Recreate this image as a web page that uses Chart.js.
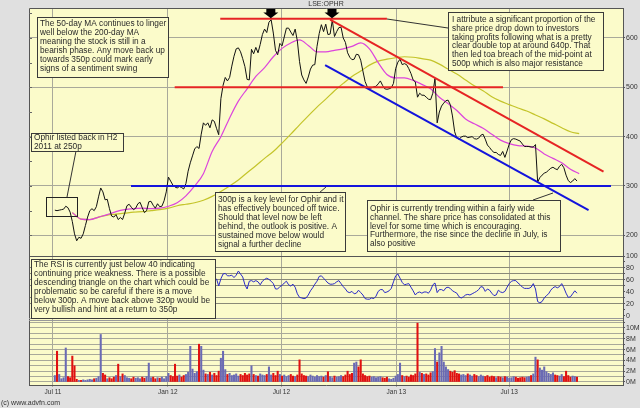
<!DOCTYPE html>
<html lang="en">

<head>
    <meta charset="UTF-8">
    <title>LSE:OPHR</title>
    <style>
        html, body { margin: 0; padding: 0; background: #e0e0e0; }
    </style>
</head>

<body>
    <canvas id="myCanvas" width="640" height="408"></canvas>
    <script src="https://cdn.jsdelivr.net/npm/chart.js@4.4.0/dist/chart.umd.min.js"></script>
    <script>
        // x values are days since 1 Jul 2011, price and volume read twice a week from 4 Jul 2011
        const firstDay = 3;
        const step = 3.5;

        const price = [
            251, 250, 251, 252, 253, 259, 256, 247, 228, 203,
            189, 196, 194, 203, 220, 237, 250, 254, 250, 258,
            278, 296, 288, 272, 273, 254, 239, 237, 242, 232,
            236, 232, 245, 260, 263, 257, 252, 255, 264, 267,
            256, 246, 250, 268, 269, 261, 255, 264, 258, 259,
            270, 288, 318, 310, 302, 298, 296, 299, 297, 294,
            305, 330, 347, 361, 375, 380, 376, 405, 428, 423,
            428, 418, 434, 431, 417, 404, 477, 504, 520, 513,
            520, 543, 563, 578, 580, 572, 558, 542, 516, 515,
            577, 568, 581, 570, 587, 607, 618, 611, 632, 637,
            610, 575, 566, 589, 584, 602, 620, 620, 612, 605,
            618, 594, 552, 525, 515, 508, 521, 537, 545, 546,
            583, 609, 627, 613, 628, 607, 608, 636, 603, 613,
            621, 622, 600, 591, 570, 561, 556, 557, 567, 566,
            555, 533, 512, 501, 498, 499, 501, 502, 507, 513,
            504, 497, 496, 497, 499, 508, 538, 551, 557, 546,
            548, 546, 538, 528, 515, 511, 480, 488, 484, 484,
            480, 476, 475, 488, 518, 428, 450, 462, 468, 473,
            474, 465, 442, 410, 397, 395, 399, 401, 401, 398,
            399, 400, 396, 395, 397, 403, 405, 395, 383, 378,
            372, 368, 368, 364, 362, 370, 358, 371, 385, 394,
            396, 395, 393, 391, 385, 380, 380, 380, 379, 379,
            384, 308, 317, 322, 326, 328, 332, 336, 338, 335,
            333, 340, 344, 337, 322, 311, 307, 310, 315, 310
        ];

        // millions of shares
        const volume = [
            1.2, 5.7, 1.4, 0.6, 0.8, 6.3, 1.0, 0.8, 4.8, 3.0,
            0.5, 0.3, 0.3, 0.4, 0.3, 0.4, 0.5, 0.4, 0.6, 0.7,
            1.0, 8.8, 1.6, 1.3, 0.6, 0.8, 0.6, 0.9, 1.2, 3.3,
            1.0, 1.5, 1.2, 0.8, 0.7, 0.6, 0.9, 0.7, 0.8, 0.6,
            0.9, 0.7, 1.0, 3.5, 0.8, 0.9, 0.6, 0.8, 0.7, 0.9,
            0.6, 1.0, 1.6, 1.2, 1.0, 3.3, 1.1, 1.3, 0.9, 1.2,
            1.4, 1.8, 6.6, 2.4, 1.6, 1.9, 7.0, 6.6, 2.2, 1.5,
            1.4, 1.8, 1.3, 1.6, 1.2, 2.0, 4.4, 5.7, 2.3, 1.4,
            1.6, 1.2, 1.3, 1.5, 1.1, 1.4, 1.2, 1.6, 1.3, 1.5,
            3.0, 1.4, 1.2, 1.1, 1.5, 1.3, 1.2, 1.4, 2.8, 1.3,
            1.6, 1.2, 2.0, 1.4, 1.1, 1.3, 1.0, 1.2, 1.4, 1.1,
            1.0, 1.3, 4.1, 1.5, 1.2, 1.1, 1.0, 1.3, 1.1, 0.9,
            1.2, 1.0, 1.1, 0.9, 1.2, 1.9, 1.0, 0.8, 1.1, 0.9,
            1.0, 1.2, 1.0, 1.3, 2.0, 1.4, 1.6, 3.5, 3.7, 2.8,
            4.1, 1.5, 1.2, 1.0, 1.1, 0.9, 1.0, 0.8, 0.9, 1.0,
            0.8, 0.7, 0.9, 0.6, 0.5, 0.7, 1.1, 1.4, 3.5, 1.2,
            1.0, 1.1, 0.9, 1.3, 1.2, 1.5, 10.9, 1.8, 1.6, 1.4,
            1.5, 1.3, 1.7, 1.9, 6.2, 3.7, 5.4, 6.6, 3.7, 2.8,
            2.3, 2.0, 1.8, 2.1, 1.6, 1.5, 1.3, 1.4, 1.2, 1.5,
            1.3, 1.1, 1.4, 1.2, 1.0, 1.3, 1.1, 1.0, 1.2, 0.9,
            1.1, 1.0, 0.8, 1.0, 0.9, 0.8, 1.0, 0.9, 0.7, 0.8,
            1.0, 0.9, 0.7, 0.8, 0.9, 0.8, 0.9, 1.0, 1.2, 1.5,
            4.6, 4.1, 2.6, 2.2, 2.8, 1.9, 1.6, 1.4, 1.7, 1.3,
            1.2, 1.1, 1.4, 1.0, 2.0, 1.2, 0.9, 1.1, 1.0, 0.9
        ];

        // RSI only shows to the right of the note box, from the 75th reading on
        const rsiStart = 74;
        const rsi = [
            62, 50, 62, 70, 71, 67, 67, 68, 64, 68,
            75, 70, 65, 52, 45, 58, 59, 57, 59, 57,
            52, 58, 61, 63, 61, 58, 54, 45, 45, 49,
            51, 55, 58, 52, 50, 53, 48, 37, 31, 30,
            29, 30, 35, 42, 47, 53, 58, 66, 67, 63,
            59, 55, 53, 53, 54, 57, 59, 54, 49, 45,
            40, 39, 41, 37, 38, 43, 39, 35, 29, 28,
            28, 30, 29, 33, 41, 44, 44, 39, 40, 42,
            46, 57, 67, 70, 63, 56, 52, 53, 54, 48,
            42, 35, 39, 40, 38, 40, 40, 38, 43, 52,
            55, 39, 44, 44, 42, 47, 48, 46, 42, 40,
            38, 32, 30, 32, 35, 36, 35, 37, 39, 41,
            44, 49, 48, 41, 45, 43, 38, 34, 35, 43,
            40, 39, 41, 48, 54, 58, 59, 59, 55, 52,
            48, 46, 46, 46, 48, 54, 45, 24, 22, 24,
            30, 34, 37, 43, 47, 49, 47, 49, 54, 47,
            38, 31, 32, 37, 42, 38
        ];

        // moving averages read once a fortnight, from 1 Aug 2011
        const maFirst = 31;
        const maStep = 14;
        const ma50 = [
            246, 233, 232, 237, 242, 248, 252, 254, 255, 254,
            255, 259, 266, 280, 300, 325, 370, 400, 438, 472,
            497, 522, 540, 562, 579, 590, 596, 585, 572, 572,
            575, 578, 583, 590, 578, 550, 526, 519, 519, 514,
            506, 497, 480, 467, 453, 436, 426, 417, 405, 393,
            386, 382, 381, 377, 365, 356, 347, 334, 325
        ];
        const ma200 = [
            246, 233, 232, 237, 241, 243, 245, 247, 248, 250,
            252, 255, 260, 263, 266, 271, 279, 289, 300, 312,
            327, 341, 356, 370, 387, 405, 424, 442, 460, 476,
            493, 508, 522, 533, 545, 553, 557, 560, 562, 561,
            558, 555, 547, 537, 527, 515, 503, 493, 481, 472,
            465, 458, 452, 444, 436, 427, 418, 410, 406
        ];

        const tickDays = [0, 184, 366, 550, 731];
        const tickLabels = ['Jul 11', 'Jan 12', 'Jul 12', 'Jan 13', 'Jul 13'];
        const priceTicks = [200, 300, 400, 500, 600];
        const rsiTicks = [0, 10, 20, 30, 40, 50, 60, 70, 80, 90, 100];
        const rsiGrid = [20, 30, 50, 60, 70, 80];
        const volTicks = [0, 1, 2, 3, 4, 5, 6, 7, 8, 9, 10, 11];

        // hand drawn levels: [day, price] pairs
        const red = '#e62424';
        const blue = '#1414dc';
        const trendLines = [
            { colour: red, from: [268, 639], to: [535, 639] },
            { colour: red, from: [195, 500], to: [721, 500] },
            { colour: blue, from: [125, 300], to: [894, 300] },
            { colour: red, from: [444, 637], to: [882, 329] },
            { colour: blue, from: [436, 545], to: [858, 251] }
        ];
        const peaks = [349, 447];

        const notes = [
            { box: [37, 17, 168, 77], x: 40, y: 24, lines: [
                'The 50-day MA continues to linger',
                'well below the 200-day MA',
                'meaning the stock is still in a',
                'bearish phase. Any move back up',
                'towards 350p could mark early',
                'signs of a sentiment swing'] },
            { box: [31, 133, 123, 151], x: 34, y: 137.5, lines: [
                'Ophir listed back in H2',
                '2011 at 250p'] },
            { box: [215, 192, 345, 251], x: 218, y: 200, lines: [
                '300p is a key level for Ophir and it',
                'has effectively bounced off twice.',
                'Should that level now be left',
                'behind, the outlook is positive. A',
                'sustained move below would',
                'signal a further decline'] },
            { box: [448, 12, 603, 70], x: 452, y: 19.5, lines: [
                'I attribute a significant proportion of the',
                'share price drop down to investors',
                'taking profits following what is a pretty',
                'clear double top at around 640p. That',
                'then led toa breach of the mid-point at',
                '500p which is also major resistance'] },
            { box: [367, 200, 560, 251], x: 370, y: 208.5, lines: [
                'Ophir is currently trending within a fairly wide',
                'channel. The share price has consolidated at this',
                'level for some time which is encouraging.',
                'Furthermore, the rise since the decline in July, is',
                'also positive'] },
            { box: [31, 259, 215, 318], x: 34, y: 265, lines: [
                'The RSI is currently just below 40 indicating',
                'continuing price weakness. There is a possible',
                'descending triangle on the chart which could be',
                'problematic so be careful if there is a move',
                'below 300p. A move back above 320p would be',
                'very bullish and hint at a return to 350p'] }
        ];
        const leaders = [
            [76, 151, 67, 197],
            [319, 193, 326, 187],
            [387, 19, 448, 28],
            [533, 200, 553, 193]
        ];

        const panelBg = '#fbfbca';
        const gridCol = '#a9a99a';
        const axisFont = { family: 'Liberation Sans', size: 7 };

        function points(values, start, gap) {
            return values.map((v, i) => ({ x: start + gap * i, y: v }));
        }
        const pricePts = points(price, firstDay, step);

        const datasets = trendLines.map(t => ({
            type: 'line',
            data: [{ x: t.from[0], y: t.from[1] }, { x: t.to[0], y: t.to[1] }],
            borderColor: t.colour,
            borderWidth: 2,
            pointRadius: 0,
            yAxisID: 'y',
            order: 0
        }));
        datasets.push({
            type: 'line', label: 'LSE:OPHR', data: pricePts,
            borderColor: '#111', borderWidth: 1, pointRadius: 0, yAxisID: 'y', order: 1
        });
        datasets.push({
            type: 'line', label: 'MA50', data: points(ma50, maFirst, maStep),
            borderColor: '#dc44dc', borderWidth: 1.2, pointRadius: 0, cubicInterpolationMode: 'monotone', yAxisID: 'y', order: 2
        });
        datasets.push({
            type: 'line', label: 'MA200', data: points(ma200, maFirst, maStep),
            borderColor: '#c4c42a', borderWidth: 1.2, pointRadius: 0, cubicInterpolationMode: 'monotone', yAxisID: 'y', order: 3
        });
        datasets.push({
            type: 'line', label: 'RSI', data: points(rsi, firstDay + step * rsiStart, step),
            borderColor: '#2a2ac8', borderWidth: 1, pointRadius: 0, yAxisID: 'yr', order: 1
        });
        datasets.push({
            type: 'bar', label: 'Volume', data: points(volume, firstDay, step),
            backgroundColor: c => {
                const i = c.dataIndex;
                return i > 0 && price[i] < price[i - 1] ? '#e01010' : '#6a6ab4';
            },
            barThickness: 1.4, yAxisID: 'yv', order: 1
        });

        const overlay = {
            id: 'overlay',
            beforeDraw(chart) {
                const { ctx, chartArea: a } = chart;
                ctx.save();
                ctx.fillStyle = '#e0e0e0';
                ctx.fillRect(0, 0, chart.width, chart.height);
                ctx.fillStyle = panelBg;
                ctx.fillRect(a.left, a.top, a.right - a.left, a.bottom - a.top);
                ctx.restore();
            },
            afterDraw(chart) {
                const { ctx, chartArea: a, scales } = chart;
                const sx = scales.x, sy = scales.y;
                ctx.save();

                // panel frame and separators
                ctx.lineWidth = 1;
                ctx.strokeStyle = '#555';
                ctx.beginPath();
                ctx.moveTo(a.left + 0.5, a.bottom); ctx.lineTo(a.left + 0.5, a.top + 0.5); ctx.lineTo(a.right, a.top + 0.5);
                const p1 = Math.round(sy.bottom) + 0.5;
                ctx.moveTo(a.left, p1); ctx.lineTo(a.right, p1);
                ctx.stroke();
                ctx.strokeStyle = '#999';
                const p2 = Math.round(scales.yr.bottom) - 1.5;
                ctx.beginPath();
                ctx.moveTo(a.left, p2); ctx.lineTo(a.right, p2);
                ctx.moveTo(a.left, p2 + 2); ctx.lineTo(a.right, p2 + 2);
                ctx.stroke();

                // minor ticks on the left of the price panel
                ctx.strokeStyle = '#666';
                ctx.beginPath();
                for (let v = 200; v <= 650; v += 50) {
                    const yy = Math.round(sy.getPixelForValue(v)) + 0.5;
                    ctx.moveTo(a.left, yy); ctx.lineTo(a.left + 3, yy);
                }
                ctx.stroke();

                // double-top markers
                ctx.fillStyle = '#000';
                peaks.forEach(d => {
                    const px = sx.getPixelForValue(d);
                    const tip = sy.getPixelForValue(640);
                    ctx.fillRect(px - 4.5, a.top + 1, 9, 4);
                    ctx.beginPath();
                    ctx.moveTo(px - 7.5, a.top + 4.5);
                    ctx.lineTo(px + 7.5, a.top + 4.5);
                    ctx.lineTo(px, tip);
                    ctx.closePath();
                    ctx.fill();
                });

                // listing box
                ctx.strokeStyle = '#222';
                ctx.strokeRect(46.5, 197.5, 31, 19);

                // leader lines
                ctx.strokeStyle = '#333';
                ctx.beginPath();
                leaders.forEach(l => { ctx.moveTo(l[0], l[1]); ctx.lineTo(l[2], l[3]); });
                ctx.stroke();

                // notes
                ctx.font = '8.3px "Liberation Sans"';
                ctx.textBaseline = 'middle';
                notes.forEach(n => {
                    const [x0, y0, x1, y1] = n.box;
                    ctx.fillStyle = panelBg;
                    ctx.fillRect(x0, y0, x1 - x0, y1 - y0);
                    ctx.strokeStyle = '#3a3a3a';
                    ctx.strokeRect(x0 + 0.5, y0 + 0.5, x1 - x0, y1 - y0);
                    ctx.fillStyle = '#2a2a2a';
                    n.lines.forEach((t, i) => ctx.fillText(t, n.x, n.y + i * 8.9));
                });

                ctx.fillStyle = '#333';
                ctx.font = '7px "Liberation Sans"';
                ctx.textAlign = 'center';
                ctx.fillText('LSE:OPHR', 326, 4);
                ctx.textAlign = 'left';
                ctx.fillText('(c) www.advfn.com', 1, 403);
                ctx.restore();
            }
        };

        function rightAxis(extra) {
            return Object.assign({
                position: 'right',
                stack: 'panels',
                afterFit: s => { s.width = 17; },
                border: { display: true, color: '#555' },
                ticks: { font: axisFont, color: '#333', padding: 1, autoSkip: false },
            }, extra);
        }

        new Chart(document.getElementById('myCanvas').getContext('2d'), {
            data: { datasets: datasets },
            options: {
                responsive: false,
                animation: false,
                layout: { padding: { left: 29, top: 8, right: 0, bottom: 11 } },
                plugins: { legend: { display: false }, tooltip: { enabled: false } },
                scales: {
                    x: {
                        type: 'linear', min: -38.4, max: 913.2, offset: false,
                        afterBuildTicks: s => { s.ticks = tickDays.map(v => ({ value: v })); },
                        afterFit: s => { s.height = 12; },
                        ticks: {
                            font: { family: 'Liberation Sans', size: 6.5 }, color: '#333', padding: 1,
                            maxRotation: 0, autoSkip: false,
                            callback: v => tickLabels[tickDays.indexOf(v)]
                        },
                        grid: { color: gridCol, tickLength: 2, offset: false },
                        border: { display: true, color: '#555' }
                    },
                    y: rightAxis({
                        stackWeight: 248, min: 158.1, max: 660.8,
                        afterBuildTicks: s => { s.ticks = priceTicks.map(v => ({ value: v })); },
                        grid: { color: gridCol, tickLength: 2, tickColor: '#555' }
                    }),
                    yr: rightAxis({
                        stackWeight: 64, min: -6.67, max: 100,
                        afterBuildTicks: s => { s.ticks = rsiTicks.map(v => ({ value: v })); },
                        ticks: {
                            font: axisFont, color: '#333', padding: 1, autoSkip: false,
                            callback: v => v % 20 === 0 ? String(v) : ''
                        },
                        grid: {
                            color: c => rsiGrid.includes(c.tick.value) ? '#8a8a78' : 'rgba(0,0,0,0)',
                            tickLength: 2, tickColor: '#555'
                        }
                    }),
                    yv: rightAxis({
                        stackWeight: 65, min: -0.556, max: 11.48,
                        afterBuildTicks: s => { s.ticks = volTicks.map(v => ({ value: v })); },
                        ticks: {
                            font: axisFont, color: '#333', padding: 1, autoSkip: false,
                            callback: v => v % 2 === 0 ? v + 'M' : ''
                        },
                        grid: { color: gridCol, tickLength: 2, tickColor: '#555' }
                    })
                }
            },
            plugins: [overlay]
        });
    </script>
</body>

</html>
